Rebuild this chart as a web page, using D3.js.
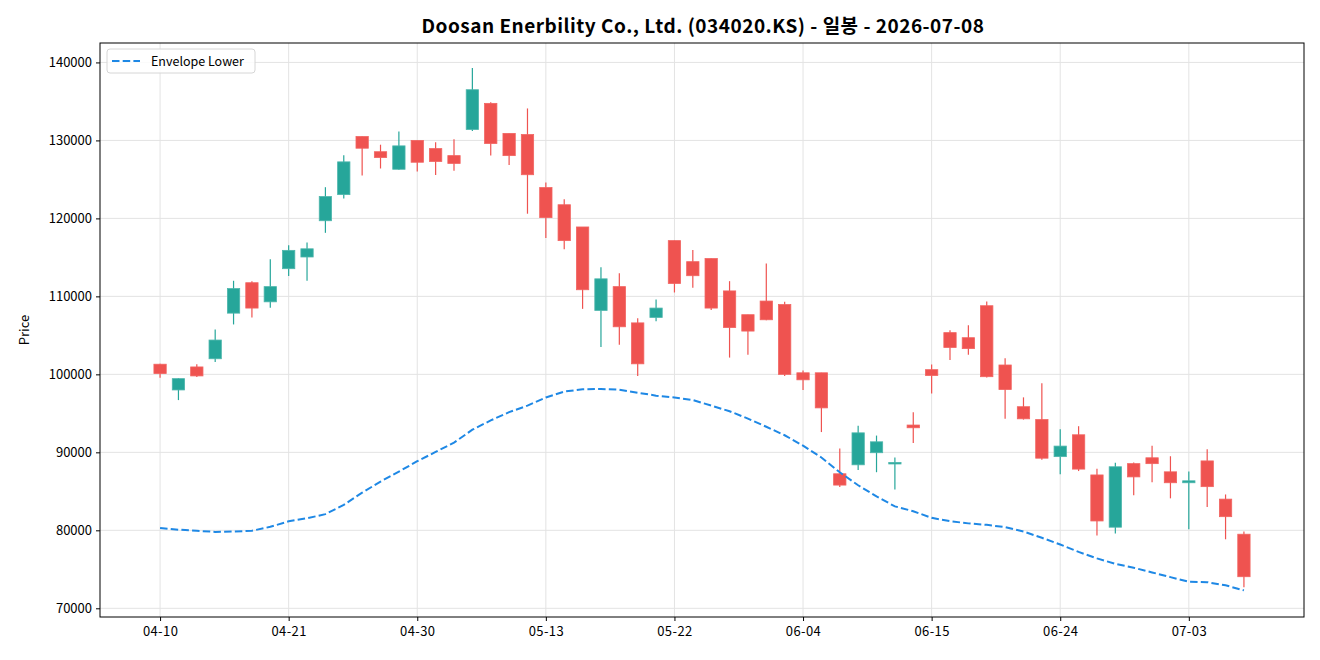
<!DOCTYPE html>
<html><head><meta charset="utf-8">
<script src="https://cdn.jsdelivr.net/npm/d3@7"></script>
<style>
body{margin:0;background:#fff;}
text{font-family:"Noto Sans CJK KR","Noto Sans",sans-serif;}
</style></head>
<body><svg id="c" width="1320" height="660"></svg>
<script>
const dates = ["04-10","04-13","04-14","04-15","04-16","04-17","04-20","04-21","04-22","04-23","04-24","04-27","04-28","04-29","04-30","05-04","05-06","05-07","05-08","05-11","05-12","05-13","05-14","05-15","05-18","05-19","05-20","05-21","05-22","05-26","05-27","05-28","05-29","06-01","06-02","06-04","06-05","06-08","06-09","06-10","06-11","06-12","06-15","06-16","06-17","06-18","06-19","06-22","06-23","06-24","06-25","06-26","06-29","06-30","07-01","07-02","07-03","07-06","07-07","07-08"];
const open  = [101300,98000,100950,102000,107850,111750,109300,113550,115050,119700,123050,130500,128550,126300,130000,128950,128050,131400,134750,130900,130750,123950,121750,118900,108200,111250,106600,107300,117150,114450,114850,110700,107650,109400,108950,100200,100200,87250,88400,89950,88550,93500,100600,105350,104700,108800,101200,95850,94200,89450,92250,87100,80400,88550,89300,87500,86100,88900,84000,79500];
const high  = [101350,99500,101300,105750,112000,111950,114750,116550,116900,124000,128100,130500,129450,131150,130000,129750,130150,139300,134900,130900,134100,124600,122450,118900,113750,112950,107200,109600,117150,115950,114850,111950,107650,114200,109300,100500,100200,90500,93400,92150,89350,95150,101250,105650,106300,109350,102050,97050,98850,92950,93350,87900,88650,88700,90850,89500,87550,90400,84600,79850];
const low   = [99550,96700,99650,101600,106400,107300,108550,112600,112000,118150,122550,125500,126400,126250,126000,125550,126100,131200,128050,126850,120600,117500,116050,108400,103500,103800,99800,106800,110500,111100,108250,102150,102500,106950,99800,98000,92600,85550,87750,87450,85250,91200,97550,101850,102500,99600,94300,94200,89050,87200,87600,79350,79600,84500,86150,84100,80150,83000,78850,72700];
const close = [100100,99450,99800,104400,111000,108500,111250,115900,116100,122800,127250,129000,127800,129300,127200,127300,127050,136500,129600,128050,125600,120100,117150,110850,112250,106100,101350,108500,111650,112650,108500,106000,105550,107000,100000,99300,95700,85800,92500,91350,88700,93150,99850,103450,103300,99700,98050,94300,89250,90800,87850,81200,88150,86850,88550,86100,86350,85600,81750,74050];
const envLower = [80300,80080,79940,79800,79840,79940,80450,81150,81550,82070,83260,84830,86250,87530,88860,90050,91240,92900,94090,95150,95990,97030,97790,98080,98120,98030,97650,97270,97030,96700,96000,95270,94330,93280,92190,90860,89340,87440,85780,84350,83070,82450,81600,81170,80890,80700,80410,79840,79040,78180,77230,76400,75700,75200,74600,74000,73400,73350,72950,72300];
const yTicks = [70000,80000,90000,100000,110000,120000,130000,140000];
const xTickIdx = [0,7,14,21,28,35,42,49,56];
const titleText = "Doosan Enerbility Co., Ltd. (034020.KS) - 일봉 - 2026-07-08";

const L=100,T=43,R=1304,B=617;
const svg=d3.select("#c");
const x=d3.scaleLinear().domain([-3.27,62.27]).range([L,R]);
const y=d3.scaleLinear().domain([68884,142492]).range([B,T]);
const up="#26a69a", dn="#ef5350";

// grid
const g=svg.append("g");
g.selectAll(".hg").data(yTicks).join("line").attr("x1",L).attr("x2",R)
 .attr("y1",d=>y(d)).attr("y2",d=>y(d)).attr("stroke","#e3e3e3").attr("stroke-width",1);
g.selectAll(".vg").data(xTickIdx).join("line").attr("y1",T).attr("y2",B)
 .attr("x1",d=>x(d)).attr("x2",d=>x(d)).attr("stroke","#e3e3e3").attr("stroke-width",1);

// candles
const idx=d3.range(dates.length);
const bw=(x(1)-x(0))*0.67;
const cg=svg.append("g");
cg.selectAll(".w").data(idx).join("line")
 .attr("x1",i=>x(i)).attr("x2",i=>x(i)).attr("y1",i=>y(high[i])).attr("y2",i=>y(low[i]))
 .attr("stroke",i=>close[i]>=open[i]?up:dn).attr("stroke-width",1.2);
cg.selectAll(".b").data(idx).join("rect")
 .attr("x",i=>x(i)-bw/2).attr("width",bw)
 .attr("y",i=>y(Math.max(open[i],close[i])))
 .attr("height",i=>Math.max(1.5,Math.abs(y(open[i])-y(close[i]))))
 .attr("fill",i=>close[i]>=open[i]?up:dn)
 .attr("stroke",i=>close[i]>=open[i]?"#4db6ac":"#f26461").attr("stroke-width",0.8);

// envelope
svg.append("path").datum(idx)
 .attr("d",d3.line().x(i=>x(i)).y(i=>y(envLower[i])).curve(d3.curveLinear))
 .attr("fill","none").attr("stroke","#1e88e5").attr("stroke-width",2).attr("stroke-dasharray","7.5,3.2");

// frame
svg.append("rect").attr("x",L).attr("y",T).attr("width",R-L).attr("height",B-T)
 .attr("fill","none").attr("stroke","#000").attr("stroke-width",1);

// axes
const ya=svg.append("g").attr("transform",`translate(${L},0)`)
 .call(d3.axisLeft(y).tickValues(yTicks).tickFormat(d=>String(d)).tickSize(4).tickPadding(4));
const xa=svg.append("g").attr("transform",`translate(0,${B})`)
 .call(d3.axisBottom(x).tickValues(xTickIdx).tickFormat(i=>dates[i]).tickSize(4).tickPadding(6));
[ya,xa].forEach(a=>{a.select(".domain").remove();
 a.selectAll("text").attr("font-size",13).attr("fill","#000").style("font-family","'Noto Sans CJK KR',sans-serif");
 a.selectAll("line").attr("stroke","#000");});
xa.selectAll("text").style("letter-spacing","0.4px");

// labels
svg.append("text").attr("x",(L+R)/2+1).attr("y",33).attr("text-anchor","middle")
 .attr("font-size",19).attr("font-weight","bold").style("letter-spacing","0.5px").text(titleText);
svg.append("text").attr("transform",`translate(29,${(T+B)/2}) rotate(-90)`)
 .attr("text-anchor","middle").attr("font-size",13).text("Price");

// legend
const lg=svg.append("g");
lg.append("rect").attr("x",107).attr("y",49).attr("width",148).attr("height",24).attr("rx",3)
 .attr("fill","#fff").attr("fill-opacity",0.85).attr("stroke","#d6d6d6");
lg.append("line").attr("x1",112).attr("x2",140).attr("y1",61).attr("y2",61)
 .attr("stroke","#1e88e5").attr("stroke-width",2).attr("stroke-dasharray","7.5,3.2");
lg.append("text").attr("x",151).attr("y",65.5).attr("font-size",12.5).text("Envelope Lower");
</script></body></html>
